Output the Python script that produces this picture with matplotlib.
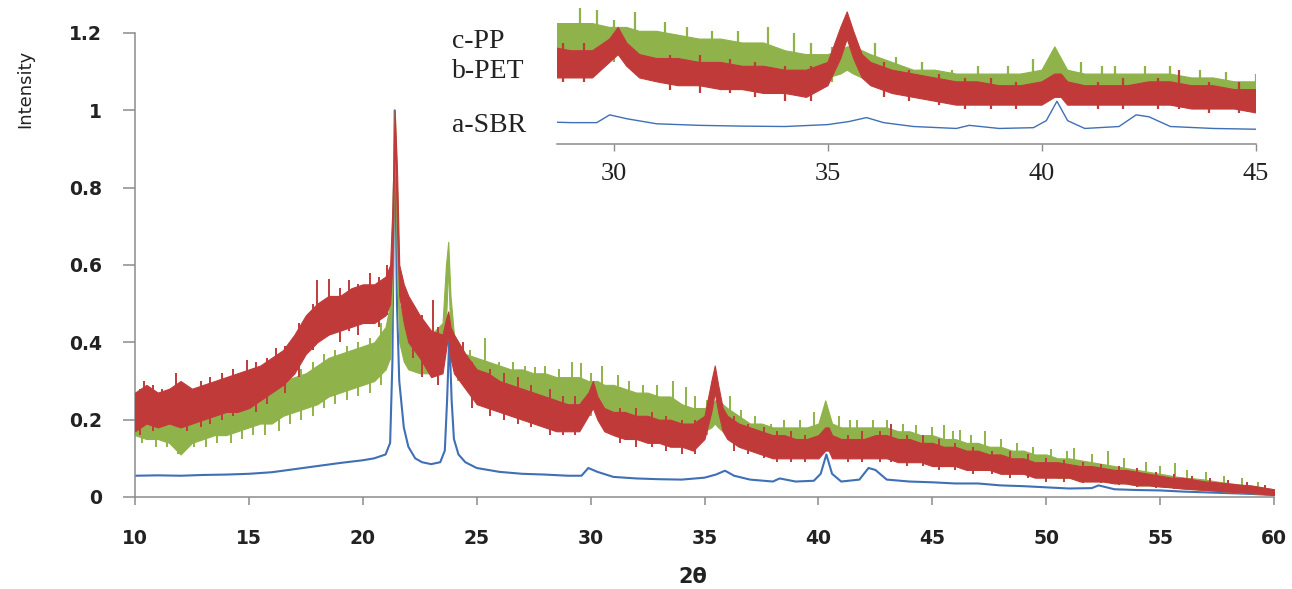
import numpy as np
import matplotlib
matplotlib.use('Agg')
import matplotlib.pyplot as plt
from matplotlib.ticker import FuncFormatter

# colours of the three patterns
c_sbr = '#3F6FB5'
c_pet = '#C13A3A'
c_pp = '#8FB34A'

# ---- a-SBR (blue line) ----
sbr_x = [10, 11, 12, 13, 14, 15, 16, 17, 18, 19, 20, 20.5, 21, 21.2, 21.3, 21.4, 21.5, 21.6, 21.8, 22,
         22.3, 22.6, 23, 23.4, 23.6, 23.7, 23.8, 23.9, 24, 24.2, 24.5, 25, 26, 27, 28, 29, 29.6, 29.9,
         30.3, 31, 32, 33, 34, 35, 35.5, 35.9, 36.3, 37, 38, 38.3, 39, 39.8, 40.1, 40.35, 40.6, 41,
         41.8, 42.2, 42.5, 43, 44, 45, 46, 47, 48, 49, 50, 51, 52, 52.3, 53, 54, 55, 56, 57, 58, 59, 60]
sbr_y = [0.055, 0.056, 0.055, 0.057, 0.058, 0.060, 0.064, 0.072, 0.080, 0.088, 0.095, 0.100, 0.110,
         0.140, 0.350, 1.000, 0.500, 0.300, 0.180, 0.130, 0.100, 0.090, 0.085, 0.090, 0.120, 0.250,
         0.420, 0.250, 0.150, 0.110, 0.090, 0.075, 0.065, 0.060, 0.058, 0.055, 0.055, 0.075, 0.065,
         0.052, 0.048, 0.046, 0.045, 0.050, 0.058, 0.068, 0.055, 0.045, 0.040, 0.048, 0.040, 0.042,
         0.060, 0.110, 0.060, 0.040, 0.045, 0.075, 0.070, 0.045, 0.040, 0.038, 0.035, 0.035, 0.030,
         0.028, 0.025, 0.022, 0.023, 0.030, 0.020, 0.018, 0.017, 0.014, 0.012, 0.010, 0.008, 0.005]

# ---- shared x positions of the noisy bands (b-PET, c-PP) ----
band_x = [10, 10.5, 11, 11.5, 12, 12.5, 13, 13.5, 14, 14.5, 15, 15.5, 16, 16.5, 17, 17.5, 18, 18.5,
          19, 19.5, 20, 20.5, 21, 21.2, 21.3, 21.4, 21.5, 21.6, 21.8, 22, 22.5, 23, 23.5, 23.65,
          23.75, 23.85, 24, 24.5, 25, 25.5, 26, 26.5, 27, 27.5, 28, 28.5, 29, 29.5, 29.9, 30.1, 30.3,
          30.6, 31, 31.5, 32, 32.5, 33, 33.5, 34, 34.5, 35, 35.3, 35.45, 35.6, 35.8, 36, 36.5, 37,
          37.5, 38, 38.5, 39, 39.5, 40, 40.3, 40.45, 40.6, 41, 41.5, 42, 42.5, 43, 43.5, 44, 44.5,
          45, 45.5, 46, 46.5, 47, 47.5, 48, 48.5, 49, 49.5, 50, 50.5, 51, 51.5, 52, 52.5, 53, 53.5,
          54, 54.5, 55, 55.5, 56, 56.5, 57, 57.5, 58, 58.5, 59, 59.5, 60]

# ---- b-PET (red band: lower / upper edge of the noise) ----
pet_lo = [0.17, 0.19, 0.18, 0.19, 0.18, 0.19, 0.20, 0.21, 0.22, 0.22, 0.23, 0.25, 0.27, 0.29, 0.32,
          0.37, 0.40, 0.42, 0.43, 0.44, 0.45, 0.45, 0.47, 0.50, 0.60, 0.95, 0.70, 0.52, 0.45, 0.40,
          0.36, 0.31, 0.32, 0.38, 0.42, 0.36, 0.32, 0.28, 0.24, 0.23, 0.22, 0.21, 0.20, 0.19, 0.18,
          0.17, 0.17, 0.17, 0.21, 0.23, 0.20, 0.17, 0.16, 0.15, 0.15, 0.14, 0.14, 0.13, 0.13, 0.12,
          0.15, 0.22, 0.27, 0.22, 0.17, 0.15, 0.13, 0.12, 0.11, 0.10, 0.10, 0.10, 0.10, 0.10, 0.12,
          0.12, 0.10, 0.10, 0.10, 0.10, 0.10, 0.10, 0.09, 0.09, 0.09, 0.08, 0.08, 0.08, 0.07, 0.07,
          0.07, 0.06, 0.06, 0.06, 0.05, 0.05, 0.05, 0.05, 0.04, 0.04, 0.04, 0.035, 0.035, 0.03, 0.03,
          0.027, 0.025, 0.022, 0.02, 0.018, 0.016, 0.014, 0.012, 0.01, 0.008, 0.005]
pet_hi = [0.27, 0.29, 0.27, 0.28, 0.30, 0.28, 0.29, 0.30, 0.31, 0.32, 0.33, 0.34, 0.36, 0.38, 0.42,
          0.47, 0.50, 0.52, 0.52, 0.54, 0.55, 0.55, 0.57, 0.60, 0.75, 1.00, 0.85, 0.60, 0.55, 0.52,
          0.47, 0.43, 0.42, 0.46, 0.48, 0.44, 0.42, 0.37, 0.33, 0.32, 0.30, 0.29, 0.28, 0.27, 0.26,
          0.25, 0.24, 0.24, 0.27, 0.30, 0.26, 0.23, 0.22, 0.22, 0.21, 0.21, 0.20, 0.20, 0.19, 0.19,
          0.21, 0.30, 0.34, 0.29, 0.23, 0.21, 0.19, 0.18, 0.17, 0.16, 0.16, 0.15, 0.15, 0.16, 0.18,
          0.18, 0.16, 0.15, 0.15, 0.15, 0.16, 0.16, 0.15, 0.15, 0.14, 0.14, 0.13, 0.13, 0.12, 0.12,
          0.11, 0.11, 0.10, 0.10, 0.09, 0.09, 0.09, 0.085, 0.08, 0.08, 0.075, 0.07, 0.07, 0.065, 0.06,
          0.055, 0.05, 0.05, 0.045, 0.04, 0.038, 0.035, 0.032, 0.03, 0.025, 0.02]

# ---- c-PP (green band) ----
pp_lo = [0.16, 0.15, 0.15, 0.14, 0.11, 0.14, 0.15, 0.16, 0.16, 0.17, 0.18, 0.19, 0.19, 0.21, 0.22,
         0.23, 0.24, 0.26, 0.27, 0.28, 0.29, 0.30, 0.33, 0.36, 0.55, 0.95, 0.60, 0.40, 0.35, 0.33,
         0.32, 0.32, 0.34, 0.45, 0.60, 0.40, 0.33, 0.29, 0.28, 0.27, 0.26, 0.26, 0.25, 0.25, 0.24,
         0.24, 0.23, 0.23, 0.23, 0.23, 0.22, 0.22, 0.21, 0.20, 0.20, 0.19, 0.19, 0.18, 0.17, 0.17,
         0.17, 0.18, 0.19, 0.18, 0.17, 0.16, 0.15, 0.14, 0.13, 0.13, 0.13, 0.13, 0.13, 0.13, 0.15,
         0.14, 0.13, 0.13, 0.12, 0.12, 0.12, 0.12, 0.11, 0.11, 0.10, 0.10, 0.10, 0.09, 0.09, 0.08,
         0.08, 0.07, 0.07, 0.06, 0.06, 0.06, 0.05, 0.05, 0.05, 0.045, 0.04, 0.04, 0.035, 0.03, 0.03,
         0.028, 0.025, 0.022, 0.02, 0.018, 0.016, 0.014, 0.012, 0.01, 0.008, 0.005]
pp_hi = [0.23, 0.22, 0.21, 0.21, 0.20, 0.21, 0.22, 0.23, 0.24, 0.25, 0.25, 0.27, 0.28, 0.30, 0.31,
         0.32, 0.34, 0.36, 0.37, 0.38, 0.39, 0.40, 0.44, 0.50, 0.75, 1.00, 0.80, 0.50, 0.45, 0.43,
         0.42, 0.42, 0.45, 0.60, 0.66, 0.52, 0.42, 0.37, 0.36, 0.35, 0.34, 0.33, 0.33, 0.32, 0.32,
         0.31, 0.31, 0.31, 0.30, 0.30, 0.30, 0.29, 0.29, 0.28, 0.27, 0.27, 0.26, 0.26, 0.24, 0.23,
         0.23, 0.24, 0.25, 0.25, 0.24, 0.23, 0.21, 0.19, 0.19, 0.18, 0.18, 0.18, 0.18, 0.19, 0.25,
         0.22, 0.19, 0.18, 0.18, 0.18, 0.18, 0.18, 0.17, 0.17, 0.16, 0.16, 0.15, 0.15, 0.14, 0.14,
         0.13, 0.13, 0.12, 0.12, 0.11, 0.11, 0.10, 0.10, 0.095, 0.09, 0.085, 0.08, 0.075, 0.07, 0.065,
         0.06, 0.055, 0.05, 0.048, 0.045, 0.04, 0.036, 0.032, 0.028, 0.024, 0.02]

# single noise spikes (x, bottom, top)
pet_spk_x = [10.2, 10.4, 10.8, 11.2, 11.8, 12.3, 12.9, 13.3, 13.8, 14.3, 14.9, 15.3, 15.8, 16.2,
             16.6, 17.2, 17.8, 18.0, 18.5, 19.0, 19.4, 19.8, 20.3, 20.7, 21.05, 22.2, 22.6, 23.1,
             23.3, 24.4, 24.8, 25.6, 26.2, 26.8, 27.4, 28.2, 28.8, 29.3, 31.3, 32.0, 32.7, 33.3,
             34.0, 34.6, 36.3, 36.9, 37.6, 38.2, 38.8, 39.4, 41.3, 41.9, 42.7, 43.2, 43.9, 44.6,
             45.3, 46.0, 46.8, 47.6, 48.4, 49.2, 50.0, 50.8, 51.6, 52.4, 53.2, 54.0, 54.8, 55.6,
             56.4, 57.2, 58.0, 58.8, 59.6]
pet_spk_lo = [0.16, 0.20, 0.17, 0.18, 0.20, 0.17, 0.18, 0.19, 0.20, 0.21, 0.25, 0.22, 0.24, 0.28,
              0.27, 0.31, 0.38, 0.40, 0.42, 0.40, 0.43, 0.42, 0.45, 0.44, 0.47, 0.36, 0.31, 0.32,
              0.29, 0.30, 0.23, 0.21, 0.20, 0.19, 0.18, 0.16, 0.16, 0.16, 0.14, 0.13, 0.13, 0.12,
              0.11, 0.11, 0.12, 0.11, 0.10, 0.09, 0.09, 0.09, 0.09, 0.09, 0.09, 0.09, 0.08, 0.08,
              0.07, 0.07, 0.06, 0.06, 0.05, 0.05, 0.04, 0.04, 0.035, 0.035, 0.03, 0.025, 0.022, 0.02,
              0.018, 0.015, 0.012, 0.01, 0.005]
pet_spk_hi = [0.28, 0.30, 0.29, 0.28, 0.32, 0.27, 0.30, 0.31, 0.32, 0.33, 0.355, 0.35, 0.36, 0.385,
              0.39, 0.45, 0.50, 0.56, 0.565, 0.54, 0.56, 0.55, 0.58, 0.57, 0.60, 0.50, 0.47, 0.51,
              0.44, 0.40, 0.35, 0.33, 0.32, 0.31, 0.29, 0.28, 0.26, 0.26, 0.23, 0.23, 0.22, 0.21,
              0.20, 0.20, 0.21, 0.19, 0.18, 0.17, 0.17, 0.16, 0.16, 0.17, 0.17, 0.19, 0.16, 0.16,
              0.15, 0.14, 0.13, 0.12, 0.12, 0.11, 0.10, 0.095, 0.09, 0.085, 0.08, 0.075, 0.065, 0.06,
              0.055, 0.05, 0.045, 0.04, 0.03]

pp_spk_x = [10.3, 10.9, 11.4, 11.9, 12.2, 12.6, 13.1, 13.6, 14.2, 14.7, 15.2, 15.7, 16.3, 16.8,
            17.3, 17.8, 18.3, 18.8, 19.3, 19.8, 20.3, 20.8, 24.2, 24.7, 25.35, 26.0, 26.6, 27.1,
            27.55, 28.0, 28.6, 29.2, 29.6, 30.0, 30.5, 31.2, 31.7, 32.3, 32.9, 33.6, 34.2, 34.6,
            35.1, 36.1, 36.6, 37.2, 37.9, 38.5, 39.2, 39.8, 40.9, 41.4, 41.7, 42.4, 43.0, 43.7,
            44.3, 45.0, 45.5, 45.9, 46.2, 46.7, 47.3, 48.0, 48.7, 49.4, 50.2, 50.9, 51.2, 52.0,
            52.7, 53.4, 54.4, 55.0, 55.65, 56.2, 57.0, 57.8, 58.6, 59.3]
pp_spk_lo = [0.14, 0.13, 0.13, 0.11, 0.12, 0.13, 0.13, 0.14, 0.14, 0.15, 0.16, 0.16, 0.17, 0.19,
             0.20, 0.21, 0.23, 0.24, 0.25, 0.26, 0.27, 0.29, 0.30, 0.27, 0.28, 0.26, 0.24, 0.23,
             0.25, 0.22, 0.22, 0.23, 0.23, 0.21, 0.22, 0.21, 0.19, 0.18, 0.19, 0.17, 0.17, 0.16,
             0.16, 0.15, 0.15, 0.13, 0.13, 0.12, 0.12, 0.12, 0.12, 0.11, 0.12, 0.12, 0.12, 0.10,
             0.11, 0.09, 0.10, 0.09, 0.09, 0.08, 0.08, 0.07, 0.07, 0.06, 0.055, 0.05, 0.05, 0.045,
             0.04, 0.035, 0.03, 0.028, 0.025, 0.022, 0.018, 0.015, 0.012, 0.01]
pp_spk_hi = [0.24, 0.22, 0.22, 0.21, 0.21, 0.20, 0.23, 0.24, 0.25, 0.26, 0.27, 0.28, 0.30, 0.32,
             0.33, 0.35, 0.37, 0.38, 0.39, 0.40, 0.41, 0.45, 0.40, 0.38, 0.41, 0.35, 0.35, 0.34,
             0.336, 0.34, 0.33, 0.35, 0.346, 0.32, 0.34, 0.315, 0.30, 0.29, 0.29, 0.30, 0.285, 0.26,
             0.25, 0.26, 0.225, 0.21, 0.19, 0.20, 0.20, 0.22, 0.21, 0.20, 0.20, 0.20, 0.20, 0.19,
             0.185, 0.18, 0.185, 0.17, 0.173, 0.16, 0.17, 0.15, 0.14, 0.13, 0.125, 0.12, 0.126, 0.11,
             0.12, 0.10, 0.09, 0.08, 0.088, 0.07, 0.065, 0.055, 0.05, 0.04]

labels = ['a-SBR', 'b-PET', 'c-PP']


def draw_patterns(ax, lw_line, lw_spk):
    ax.plot(sbr_x, sbr_y, color=c_sbr, lw=lw_line, zorder=1)
    ax.fill_between(band_x, pp_lo, pp_hi, facecolor=c_pp, edgecolor=c_pp, lw=0.8, zorder=2)
    ax.vlines(pp_spk_x, pp_spk_lo, pp_spk_hi, color=c_pp, lw=lw_spk, zorder=2)
    ax.fill_between(band_x, pet_lo, pet_hi, facecolor=c_pet, edgecolor=c_pet, lw=0.8, zorder=3)
    ax.vlines(pet_spk_x, pet_spk_lo, pet_spk_hi, color=c_pet, lw=lw_spk, zorder=3)


fig = plt.figure(figsize=(12.92, 5.89), dpi=100)
ax = fig.add_axes([135/1292, 1-497/589, (1274-135)/1292, (497-33)/589])

draw_patterns(ax, 1.5, 1.4)

ax.set_xlim(10, 60)
ax.set_ylim(0, 1.2)
ax.set_xticks(np.arange(10, 61, 5))
ax.set_yticks(np.arange(0, 1.21, 0.2))
ax.yaxis.set_major_formatter(FuncFormatter(lambda v, p: '%g' % round(v, 1)))
for s in ['top', 'right']:
    ax.spines[s].set_visible(False)
for s in ['left', 'bottom']:
    ax.spines[s].set_color('#8c8c8c')
    ax.spines[s].set_linewidth(1.1)
ax.tick_params(axis='y', direction='out', length=9, width=1.1, color='#8c8c8c', pad=15,
               labelsize=13.5)
ax.tick_params(axis='x', direction='out', length=6, width=1.1, color='#8c8c8c', pad=17,
               labelsize=13.5)
for t in ax.get_xticklabels() + ax.get_yticklabels():
    t.set_fontweight('bold')
    t.set_color('#222222')

fig.text(25/1292, 1-89/589, 'Intensity', rotation=90, ha='center', va='center',
         fontsize=13, color='#222222')
fig.text(693/1292, 1-577/589, '2θ', ha='center', va='center', fontsize=15,
         fontweight='bold', color='#222222')

# ---- inset: zoom on 28.7-45 ----
axi = fig.add_axes([557/1292, 1-144/589, (1256-557)/1292, (144-8)/589])
draw_patterns(axi, 1.0, 1.6)
axi.set_xlim(28.67, 45)
axi.set_ylim(0, 0.35)
axi.set_xticks([30, 35, 40, 45])
axi.set_yticks([])
axi.patch.set_alpha(0)
for s in ['top', 'right', 'left']:
    axi.spines[s].set_visible(False)
axi.spines['bottom'].set_color('#8c8c8c')
axi.spines['bottom'].set_linewidth(1.1)
axi.tick_params(axis='x', direction='out', length=5, width=1, color='#8c8c8c', pad=9,
                labelsize=19)
for t in axi.get_xticklabels():
    t.set_fontfamily('Liberation Serif')
    t.set_color('#222222')

lab_y = [125, 71, 41]
for name, py in zip(labels, lab_y):
    fig.text(452/1292, 1-py/589, name, ha='left', va='center', fontsize=20,
             family='Liberation Serif', color='#222222')

fig.savefig('out.png', dpi=100)
